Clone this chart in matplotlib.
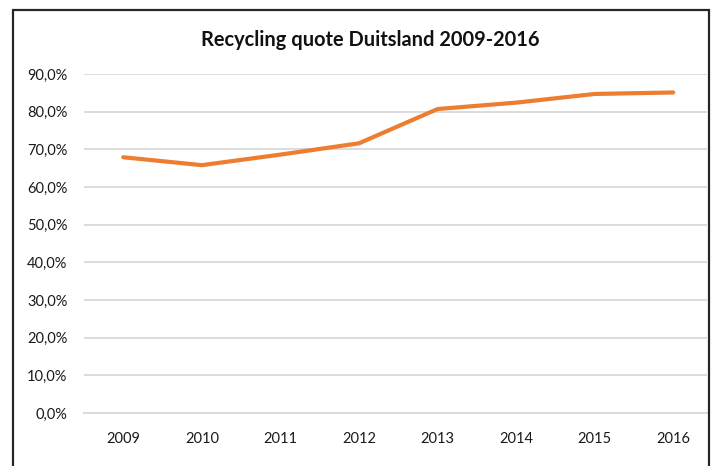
import matplotlib.pyplot as plt
from matplotlib.patches import Rectangle
from matplotlib.ticker import FuncFormatter

years = ['2009', '2010', '2011', '2012', '2013', '2014', '2015', '2016']
quote = [67.9, 65.8, 68.6, 71.6, 80.7, 82.4, 84.7, 85.1]
yticks = [0, 10, 20, 30, 40, 50, 60, 70, 80, 90]

plt.rcParams['font.family'] = ['Lato', 'DejaVu Sans']

W, H = 718, 466
fig = plt.figure(figsize=(W / 100, H / 100), dpi=100)

# chart frame (bottom edge is cropped off)
fig.patches.append(Rectangle((13 / W, -0.05), (709 - 13) / W, 1.05 - 10 / H,
                             transform=fig.transFigure, fill=False,
                             edgecolor='#262626', lw=1.6))

ax = fig.add_axes([84 / W, 1 - 413 / H, (707 - 84) / W, (413 - 74) / H])
x = range(len(years))
ax.plot(x, quote, color='#ED7D31', lw=3.0, solid_capstyle='round', zorder=3)

ax.set_ylim(0, 90)
ax.set_yticks(yticks)
ax.yaxis.set_major_formatter(FuncFormatter(lambda v, p: f'{v:.1f}%'.replace('.', ',')))
ax.set_xticks(list(x))
ax.set_xticklabels(years)
ax.set_xlim(-0.5, 7.43)

ax.grid(axis='y', color='#D9D9D9', lw=1.3)
ax.set_axisbelow(True)
for s in ax.spines.values():
    s.set_visible(False)
ax.spines['bottom'].set_visible(True)
ax.spines['bottom'].set_color('#D9D9D9')
ax.spines['bottom'].set_linewidth(1.3)
ax.tick_params(length=0, labelsize=10.5, labelcolor='#1a1a1a')
ax.tick_params(axis='y', pad=12)
ax.tick_params(axis='x', pad=14)

fig.text(370 / W, 1 - 40 / H, 'Recycling quote Duitsland 2009-2016',
         ha='center', va='center', fontsize=14.4, fontweight='bold', color='#111111')

fig.savefig('out.png', dpi=100)
